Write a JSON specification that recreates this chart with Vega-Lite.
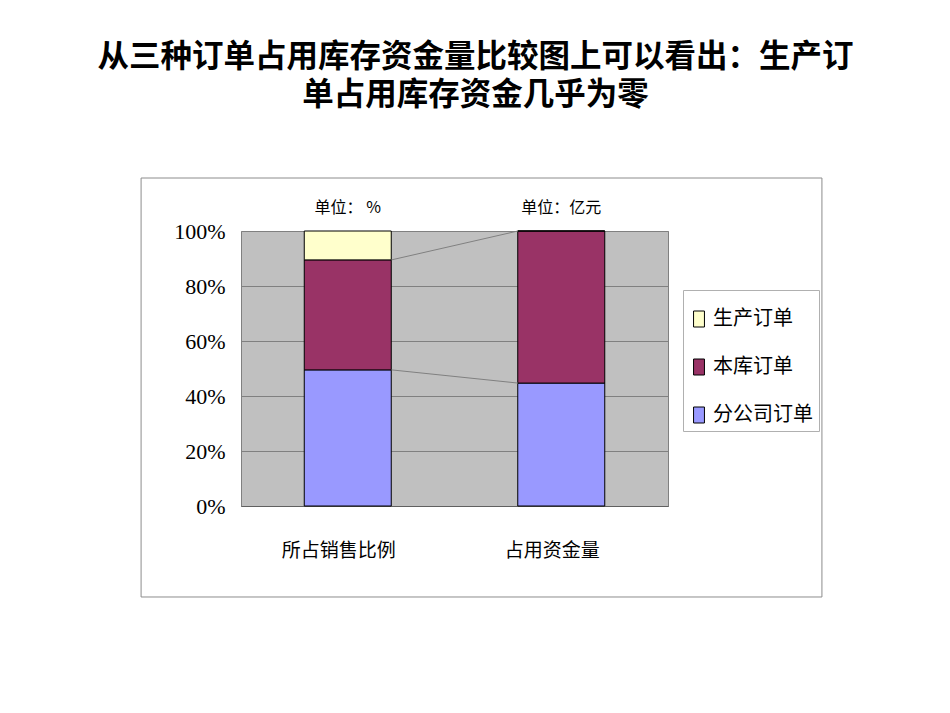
{
  "$schema": "https://vega.github.io/schema/vega-lite/v6.json",
  "width": 427,
  "height": 275,
  "autosize": {"type": "none"},
  "padding": {"left": 241, "top": 231, "right": 282, "bottom": 207},
  "background": "white",
  "title": {
    "text": ["从三种订单占用库存资金量比较图上可以看出：生产订", "单占用库存资金几乎为零"],
    "font": "Noto Sans CJK SC",
    "fontSize": 31.5,
    "fontWeight": "bold",
    "color": "black",
    "anchor": "middle",
    "dx": 21,
    "offset": 66,
    "lineHeight": 38
  },
  "datasets": {
    "orders": [
      {"cat": "所占销售比例", "series": "分公司订单", "value": 49.5},
      {"cat": "所占销售比例", "series": "本库订单", "value": 40.0},
      {"cat": "所占销售比例", "series": "生产订单", "value": 10.5},
      {"cat": "占用资金量", "series": "分公司订单", "value": 44.7},
      {"cat": "占用资金量", "series": "本库订单", "value": 55.3},
      {"cat": "占用资金量", "series": "生产订单", "value": 0}
    ],
    "units": [
      {"cat": "所占销售比例", "unit": "单位： %"},
      {"cat": "占用资金量", "unit": "单位：亿元"}
    ],
    "links": [
      {"left": 89.5, "right": 100},
      {"left": 49.5, "right": 44.7}
    ]
  },
  "config": {
    "view": {"fill": "#C0C0C0", "stroke": "#808080", "strokeWidth": 1},
    "axis": {"labelColor": "black"}
  },
  "layer": [
    {
      "data": {"name": "orders"},
      "transform": [
        {"stack": "value", "groupby": ["cat"], "sort": [{"field": "series", "order": "ascending"}], "as": ["v0", "v1"]}
      ],
      "mark": {"type": "bar", "width": 87, "stroke": "black", "strokeWidth": 1},
      "encoding": {
        "x": {
          "field": "cat", "type": "nominal",
          "sort": ["所占销售比例", "占用资金量"],
          "scale": {"paddingInner": 0, "paddingOuter": 0},
          "axis": {
            "title": null, "labelAngle": 0,
            "labelFont": "Noto Sans CJK SC", "labelFontSize": 19,
            "labelPadding": 35, "labelOffset": -9,
            "ticks": false, "grid": false,
            "domainColor": "#606060", "domainWidth": 1
          }
        },
        "y": {
          "field": "v0", "type": "quantitative", "title": null,
          "scale": {"domain": [0, 100], "nice": false, "zero": false},
          "axis": {
            "title": null,
            "values": [0, 20, 40, 60, 80, 100],
            "labelExpr": "datum.value + '%'",
            "labelFont": "Liberation Serif", "labelFontSize": 22,
            "labelPadding": 16, "ticks": false, "domain": false,
            "grid": true, "gridColor": "#808080", "gridWidth": 1
          }
        },
        "y2": {"field": "v1"},
        "color": {
          "field": "series", "type": "nominal",
          "scale": {"domain": ["生产订单", "本库订单", "分公司订单"], "range": ["#FFFFCC", "#993366", "#9999FF"]},
          "legend": {
            "orient": "none", "legendX": 442, "legendY": 59,
            "title": " ", "titleFontSize": 9, "titlePadding": 4,
            "symbolType": "M-0.68,-1H0.68V1H-0.68Z",
            "symbolSize": 256,
            "symbolStrokeColor": "black", "symbolStrokeWidth": 1,
            "labelFont": "Noto Sans CJK SC", "labelFontSize": 20, "labelColor": "black",
            "labelOffset": 4, "labelLimit": 300,
            "rowPadding": 28, "padding": 6,
            "strokeColor": "#b0b0b0", "fillColor": "white"
          }
        }
      }
    },
    {
      "data": {"name": "links"},
      "mark": {"type": "rule", "color": "#808080", "strokeWidth": 1},
      "encoding": {
        "x": {"datum": 0.705, "type": "quantitative", "scale": {"domain": [0, 2], "nice": false, "zero": false}, "axis": null},
        "x2": {"datum": 1.297},
        "y": {"field": "left", "type": "quantitative", "title": null, "scale": {"domain": [0, 100], "nice": false, "zero": false}},
        "y2": {"field": "right"}
      }
    },
    {
      "data": {"name": "units"},
      "mark": {"type": "text", "font": "Noto Sans CJK SC", "fontSize": 16, "color": "black", "baseline": "middle", "dy": -23},
      "encoding": {
        "x": {"field": "cat", "type": "nominal", "sort": ["所占销售比例", "占用资金量"], "scale": {"paddingInner": 0, "paddingOuter": 0}, "axis": null},
        "y": {"datum": 100, "type": "quantitative", "scale": {"domain": [0, 100], "nice": false, "zero": false}},
        "text": {"field": "unit"}
      }
    },
    {
      "data": {"values": [{}]},
      "mark": {"type": "rect", "filled": false, "stroke": "#8c8c8c", "strokeWidth": 1},
      "encoding": {
        "x": {"datum": -0.468, "type": "quantitative", "scale": {"domain": [0, 2], "nice": false, "zero": false}, "axis": null},
        "x2": {"datum": 2.721},
        "y": {"datum": -33.09, "type": "quantitative", "scale": {"domain": [0, 100], "nice": false, "zero": false}},
        "y2": {"datum": 119.27}
      }
    }
  ],
  "resolve": {"scale": {"x": "independent"}}
}
